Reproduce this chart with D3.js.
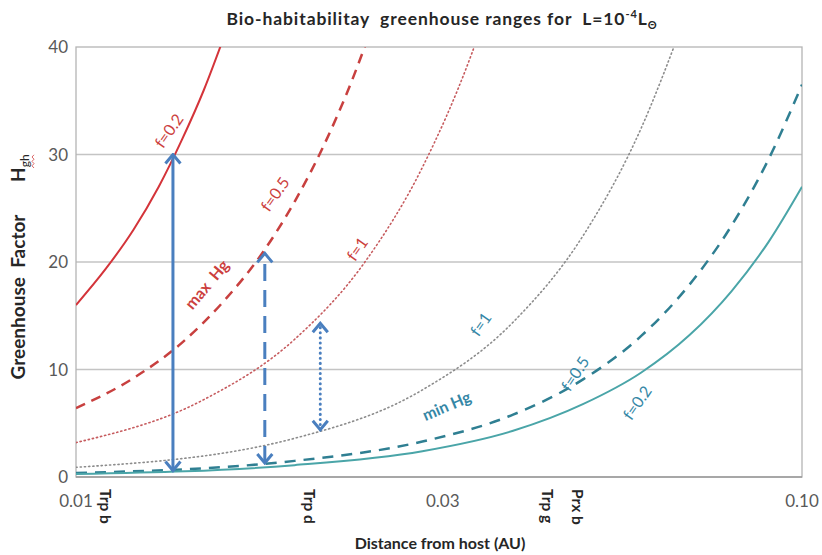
<!DOCTYPE html>
<html>
<head>
<meta charset="utf-8">
<script src="https://cdn.jsdelivr.net/npm/d3@7"></script>
<style>
  html, body { margin: 0; padding: 0; background: #fff; }
  svg { display: block; font-family: Lato, "Open Sans", sans-serif; }
  text { white-space: pre; }
</style>
</head>
<body>
<svg id="chart" width="822" height="555"></svg>
<script>
// ---- data ----
const titleMain = "Bio-habitabilitay  greenhouse ranges for  L=10";
const yTicks = [0, 10, 20, 30, 40];
const xTickLabels = ["0.01", "0.03", "0.10"];
const xTickAt = [0.01, 0.032, 0.1];

// max Hg (red) curves
const maxF02_d = [0.010, 0.011, 0.012, 0.013, 0.014, 0.015, 0.016];
const maxF02_h = [16.0, 19.4, 23.0, 27.0, 31.4, 36.0, 41.0];
const maxF05_d = [0.010, 0.012, 0.014, 0.016, 0.018, 0.020, 0.022, 0.024, 0.026];
const maxF05_h = [6.4, 9.2, 12.5, 16.4, 20.7, 25.6, 31.0, 36.9, 43.3];
const maxF1_d  = [0.010, 0.015, 0.020, 0.025, 0.030, 0.035, 0.037];
const maxF1_h  = [3.2, 7.2, 12.8, 20.0, 28.8, 39.2, 43.8];
// min Hg curves
const minF1_d  = [0.010, 0.020, 0.030, 0.040, 0.050, 0.060, 0.068];
const minF1_h  = [0.9, 3.6, 8.1, 14.4, 22.5, 32.4, 41.6];
const minF05_d = [0.010, 0.020, 0.030, 0.040, 0.050, 0.060, 0.070, 0.080, 0.090, 0.100];
const minF05_h = [0.37, 1.5, 3.3, 5.8, 9.1, 13.1, 17.9, 23.4, 29.6, 36.5];
const minF02_d = [0.010, 0.020, 0.030, 0.040, 0.050, 0.060, 0.070, 0.080, 0.090, 0.100];
const minF02_h = [0.27, 1.1, 2.4, 4.3, 6.8, 9.7, 13.2, 17.3, 21.9, 27.0];

// range arrows
const arrowD   = [0.0136, 0.0182, 0.0217];
const arrowLo  = [0.6, 1.3, 4.4];
const arrowHi  = [30.0, 20.8, 14.3];
const arrowStyle = ["solid", "dashed", "dotted"];

// planet markers
const planetNames = ["Trp b", "Trp d", "Trp g", "Prx b"];
const planetD = [0.0108, 0.0206, 0.0439, 0.0482];

// curve labels
const labelText = ["f=0.2", "max  Hg", "f=0.5", "f=1", "f=1", "min Hg", "f=0.5", "f=0.2"];
const labelD    = [0.01343, 0.01515, 0.0188, 0.0244, 0.0361, 0.0324, 0.0487, 0.0593];
const labelH    = [32.2, 17.9, 26.3, 21.2, 14.2, 6.6, 9.6, 6.9];
const labelRot  = [-55, -50, -55, -55, -55, -23, -57, -55];
const labelKind = ["max", "maxb", "max", "max", "min", "minb", "min", "min"];

// ---- drawing ----
const svg = d3.select("#chart");
const pL = 76, pR = 802, pT = 47, pB = 477;
const x = d3.scaleLog().domain([0.01, 0.1]).range([pL, pR]);
const y = d3.scaleLinear().domain([0, 40]).range([pB, pT]);

const red = "#d4343a", redDash = "#c8403f", redDot = "#c65b5e";
const teal = "#4aa5a8", tealDash = "#2f7f92", grey = "#8c8c8c";
const blue = "#4a7fbf", redText = "#cc3f3e", tealText = "#3587a6";

const defs = svg.append("defs");
defs.append("clipPath").attr("id", "plotclip")
  .append("rect").attr("x", pL).attr("y", pT).attr("width", pR - pL).attr("height", pB - pT);

const marker = defs.append("marker")
  .attr("id", "chev").attr("viewBox", "-12 -9 14 18")
  .attr("refX", 0).attr("refY", 0)
  .attr("markerWidth", 14).attr("markerHeight", 18)
  .attr("markerUnits", "userSpaceOnUse")
  .attr("orient", "auto-start-reverse");
marker.append("path").attr("d", "M-9,-7.5 L0,0 L-9,7.5")
  .attr("fill", "none").attr("stroke", blue).attr("stroke-width", 3).attr("stroke-linejoin", "miter");

// gridlines
svg.append("g").selectAll("line").data(yTicks.filter(v => v > 0 && v < 40)).join("line")
  .attr("x1", pL).attr("x2", pR).attr("y1", d => y(d)).attr("y2", d => y(d))
  .attr("stroke", "#c4c4c4").attr("stroke-width", 1.3);

// plot frame
svg.append("rect").attr("x", pL).attr("y", pT).attr("width", pR - pL).attr("height", pB - pT)
  .attr("fill", "none").attr("stroke", "#b4b4b4").attr("stroke-width", 1.3);
svg.append("line").attr("x1", pL).attr("x2", pR).attr("y1", pB).attr("y2", pB)
  .attr("stroke", "#9a9a9a").attr("stroke-width", 1.6);

// curves
const line = d3.line().x(d => x(d[0])).y(d => y(d[1])).curve(d3.curveMonotoneX);
const curves = [
  [maxF02_d, maxF02_h, red, 2, null],
  [maxF05_d, maxF05_h, redDash, 2.5, "10,7"],
  [maxF1_d, maxF1_h, redDot, 1.6, "1.2,3"],
  [minF1_d, minF1_h, grey, 1.6, "1.2,3"],
  [minF05_d, minF05_h, tealDash, 2.5, "11,8"],
  [minF02_d, minF02_h, teal, 2, null]
];
const cg = svg.append("g").attr("clip-path", "url(#plotclip)");
curves.forEach(([ds, hs, col, w, dash]) => {
  cg.append("path").datum(ds.map((d, i) => [d, hs[i]]))
    .attr("d", line).attr("fill", "none").attr("stroke", col).attr("stroke-width", w)
    .attr("stroke-dasharray", dash).attr("stroke-linecap", dash && dash.startsWith("1.2") ? "round" : "butt");
});

// arrows
arrowD.forEach((d, i) => {
  const st = arrowStyle[i];
  svg.append("line")
    .attr("x1", x(d)).attr("x2", x(d)).attr("y1", y(arrowLo[i])).attr("y2", y(arrowHi[i]))
    .attr("stroke", blue).attr("stroke-width", 3)
    .attr("stroke-dasharray", st === "dashed" ? "17,9" : st === "dotted" ? "0.1,5" : null)
    .attr("stroke-linecap", st === "dotted" ? "round" : "butt")
    .attr("marker-start", "url(#chev)").attr("marker-end", "url(#chev)");
});

// curve labels
labelText.forEach((t, i) => {
  const k = labelKind[i];
  svg.append("text")
    .attr("transform", `translate(${x(labelD[i])},${y(labelH[i])}) rotate(${labelRot[i]})`)
    .attr("text-anchor", "middle").attr("dy", "0.35em")
    .attr("font-size", 16)
    .attr("font-weight", k.endsWith("b") ? "bold" : "normal")
    .attr("fill", k.startsWith("max") ? redText : tealText)
    .text(t);
});

// y tick labels
svg.append("g").selectAll("text").data(yTicks).join("text")
  .attr("x", 68).attr("y", d => y(d)).attr("dy", "0.36em")
  .attr("text-anchor", "end").attr("font-size", 17).attr("fill", "#595959")
  .text(d => d);

// x tick labels
svg.append("g").selectAll("text").data(xTickAt).join("text")
  .attr("x", d => x(d)).attr("y", 507)
  .attr("text-anchor", "middle").attr("font-size", 17).attr("fill", "#595959")
  .text((d, i) => xTickLabels[i]);

// planet labels (rotated)
svg.append("g").selectAll("text").data(planetD).join("text")
  .attr("transform", d => `translate(${x(d)},489) rotate(90)`)
  .attr("text-anchor", "start").attr("font-size", 15.5).attr("font-weight", "bold").attr("fill", "#262626")
  .text((d, i) => planetNames[i]);

// title
const title = svg.append("text").attr("x", 442).attr("y", 25).attr("text-anchor", "middle")
  .attr("font-size", 17.5).attr("font-weight", "bold").attr("fill", "#262626")
  .attr("letter-spacing", 0.9);
title.append("tspan").text(titleMain);
title.append("tspan").attr("font-size", 11).attr("dy", -7).text("-4");
title.append("tspan").attr("dy", 7).text("L");
title.append("tspan").attr("font-size", 11).attr("dy", 4).text("Θ");

// x axis title
svg.append("text").attr("x", 440).attr("y", 549).attr("text-anchor", "middle")
  .attr("font-size", 16).attr("font-weight", "bold").attr("fill", "#262626")
  .text("Distance from host (AU)");

// y axis title
const yt = svg.append("g").attr("transform", "translate(25,297) rotate(-90)");
yt.append("text").attr("x", 0).attr("y", 0).attr("text-anchor", "middle")
  .attr("font-size", 19).attr("font-weight", "bold").attr("fill", "#262626")
  .text("Greenhouse  Factor");
const ht = yt.append("text").attr("x", 115).attr("y", 0).attr("text-anchor", "start")
  .attr("font-size", 19).attr("font-weight", "bold").attr("fill", "#262626");
ht.append("tspan").text("H");
ht.append("tspan").attr("font-size", 12).attr("dy", 4).attr("font-weight", "normal").text("gh");
// spell-check squiggle under the subscript
yt.append("path")
  .attr("d", d3.range(0, 7).map((k, i) => `${i === 0 ? "M" : "L"}${129 + k * 2.2},${i % 2 ? 7 : 9}`).join(" "))
  .attr("fill", "none").attr("stroke", "#d04040").attr("stroke-width", 0.8);
</script>
</body>
</html>
